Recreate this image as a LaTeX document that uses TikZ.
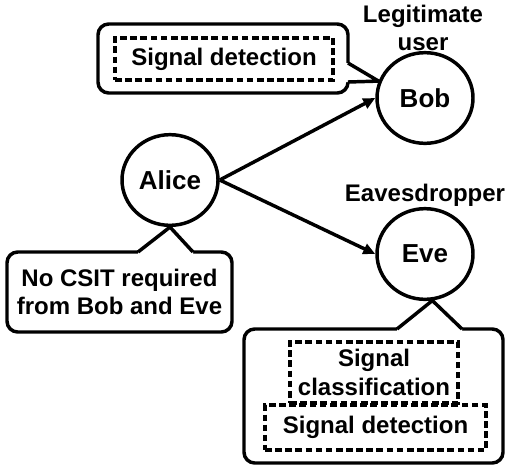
\documentclass[tikz,border=0pt]{standalone}
\usepackage{fontspec}
\setmainfont{Liberation Sans}
\usetikzlibrary{shapes.geometric,arrows.meta,backgrounds}

\begin{document}
\begin{tikzpicture}[
        x=0.75pt, y=-0.75pt,
        >={Triangle[length=9pt,width=8pt]},
        user_node/.style={
            ellipse,
            draw=black,
            line width=2.6pt,
            fill=white,
            minimum width=72pt,
            minimum height=68pt,
            inner sep=0pt,
            font=\bfseries\fontsize{19.5}{22}\selectfont
        },
        call_box/.style={
            rectangle,
            draw=black,
            line width=2.6pt,
            fill=white,
            rounded corners=8pt,
            inner sep=0pt,
            align=center,
            font=\bfseries\fontsize{18}{20.5}\selectfont
        },
        task_box/.style={
            rectangle,
            draw=black,
            line width=2.3pt,
            dash pattern=on 5pt off 2.6pt,
            inner sep=0pt,
            align=center,
            font=\bfseries\fontsize{18}{21.5}\selectfont
        },
        tail_line/.style={draw=black, line width=2.6pt, line join=miter},
        link_arrow/.style={->, line width=2.6pt, black},
        role_label/.style={font=\bfseries\fontsize{18}{21.5}\selectfont, align=center}
    ]

    \useasboundingbox (0,0) rectangle (506,468);

    % =================================================
    % USERS
    % =================================================
    \node[user_node] (alice) at (170,180) {Alice};
    \node[user_node] (bob) at (425,98) {Bob};
    \node[user_node] (eve) at (425,254) {Eve};

    % Roles
    \node[role_label] (bob_role) at (423,28) {Legitimate\\user};
    \node[role_label] (eve_role) at (425,195) {Eavesdropper};

    % Links
    \draw[link_arrow] (alice.east) -- (bob.west);
    \draw[link_arrow] (alice.east) -- (eve.west);

    % =================================================
    % CALLOUTS
    % =================================================
    \begin{pgfonlayer}{background}
        % Bob side
        \node[call_box, minimum width=187.5pt, minimum height=51.75pt] (bob_note) at (223,58.5) {};
        \fill[white] (345,63) -- (348,63) -- (bob.160) -- (348,82) -- (345,82) -- cycle;
        \draw[tail_line] (348,63) -- (bob.160) -- (348,82);

        % Alice side
        \node[call_box, minimum width=168.75pt, minimum height=60pt] (alice_note) at (119.5,292) {No CSIT required\\from Bob and Eve};
        \fill[white] (138,255) -- (138,252) -- (alice.south) -- (193,252) -- (193,255) -- cycle;
        \draw[tail_line] (138,252) -- (alice.south) -- (193,252);

        % Eve side
        \node[call_box, minimum width=194.25pt, minimum height=100.5pt] (eve_note) at (373.5,396) {};
        \fill[white] (397,332) -- (397,329) -- (eve.-81) -- (462,329) -- (462,332) -- cycle;
        \draw[tail_line] (397,329) -- (eve.-81) -- (462,329);
    \end{pgfonlayer}

    % Tasks
    \node[task_box, minimum width=163.5pt, minimum height=31.5pt] (bob_detect) at (224,59) {Signal detection};
    \node[task_box, minimum width=126pt, minimum height=45.75pt] (eve_classify) at (374,372.5) {Signal\\classification};
    \node[task_box, minimum width=165.75pt, minimum height=33.75pt] (eve_detect) at (375.5,427.5) {Signal detection};

\end{tikzpicture}
\end{document}
